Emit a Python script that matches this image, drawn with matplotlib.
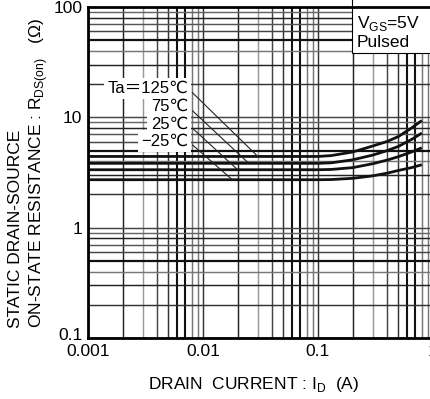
import matplotlib
matplotlib.use("Agg")
import matplotlib.pyplot as plt
from matplotlib.patches import Rectangle
from matplotlib.transforms import ScaledTranslation

plt.rcParams['font.family'] = ['Liberation Sans', 'DejaVu Sans', 'Noto Sans CJK JP']
plt.rcParams['mathtext.fontset'] = 'custom'
plt.rcParams['mathtext.rm'] = 'Liberation Sans'

# drain current (A) and on-state resistance (ohm) per ambient temperature
current = [0.001, 0.1, 0.13, 0.2, 0.3, 0.4, 0.5, 0.65, 0.8]
r_125 = [4.42, 4.42, 4.5, 4.85, 5.5, 6.05, 6.7, 8.0, 9.35]
r_75 = [3.83, 3.83, 3.87, 4.12, 4.55, 5.0, 5.45, 6.3, 7.2]
r_25 = [3.35, 3.35, 3.37, 3.5, 3.8, 4.1, 4.4, 4.85, 5.3]
r_m25 = [2.72, 2.72, 2.73, 2.8, 2.95, 3.12, 3.3, 3.5, 3.72]
temp_labels = ["Ta＝125℃", "75℃", "25℃", "−25℃"]
# current where each label's leader line meets its curve
label_current = [0.030, 0.025, 0.020, 0.018]

x_ticks = [0.001, 0.01, 0.1, 1]
x_ticklabels = ["0.001", "0.01", "0.1", "1"]
y_ticks = [0.1, 1, 10, 100]
y_ticklabels = ["0.1", "1", "10", "100"]


def draw_grid(ax):
    # scanned datasheet grid: every line has its own weight
    vcol = {1: "#333333", 2: "#222222", 3: "#999999", 4: "#444444", 5: "#333333",
            6: "#111111", 7: "#111111", 8: "#777777", 9: "#777777"}
    hcol = {1: "#444444", 2: "#333333", 3: "#222222", 4: "#777777", 5: "#111111",
            6: "#444444", 7: "#555555", 8: "#222222", 9: "#666666"}
    for dec in [0.001, 0.01, 0.1]:
        for k in range(1, 10):
            lw = 1.5 if k in (6, 7) else 1.05
            ax.axvline(dec * k, color=vcol[k], lw=lw, zorder=1)
    for dec in [0.1, 1, 10]:
        for k in range(1, 10):
            lw = 1.6 if k == 5 else 1.05
            ax.axhline(dec * k, color=hcol[k], lw=lw, zorder=1)


def main():
    fig = plt.figure(figsize=(4.31, 3.99), dpi=100)
    ax = fig.add_axes([88 / 431, 1 - 338 / 399, 345 / 431, 331 / 399])
    ax.set_xscale('log')
    ax.set_yscale('log')
    ax.set_xlim(0.001, 1)
    ax.set_ylim(0.1, 100)

    draw_grid(ax)

    curves = [r_125, r_75, r_25, r_m25]
    for r in curves:
        ax.plot(current, r, color='#111111', lw=2.0, solid_capstyle='butt',
                solid_joinstyle='round', zorder=3)

    # temperature labels with leader lines
    label_y = [0.754, 0.699, 0.646, 0.595]
    for lab, ic, r, ly in zip(temp_labels, label_current, curves, label_y):
        ax.annotate(lab, xy=(ic, r[0]), xycoords='data',
                    xytext=(0.29, ly), textcoords='axes fraction',
                    ha='right', va='center', fontsize=12, zorder=4,
                    bbox=dict(boxstyle='square,pad=0.2', fc='white', ec='none'),
                    arrowprops=dict(arrowstyle='-', lw=0.8, color='#222222',
                                    relpos=(1, 0.5), shrinkA=1, shrinkB=0))

    # condition box top right
    ax.add_patch(Rectangle((0.765, 0.861), 0.3, 0.2, transform=ax.transAxes,
                           fc='white', ec='black', lw=0.8, zorder=4, clip_on=False))
    ax.text(0.78, 0.925, "V$_{\\mathrm{GS}}$=5V\nPulsed", transform=ax.transAxes,
            ha='left', va='center', fontsize=12.5, linespacing=1.15, zorder=5)

    ax.set_xticks(x_ticks)
    ax.set_xticklabels(x_ticklabels)
    ax.set_yticks(y_ticks)
    ax.set_yticklabels(y_ticklabels)
    ax.minorticks_off()
    ax.tick_params(length=0, pad=4, labelsize=12.5)
    # the lowest y label sits a little above the corner in the original
    low = ax.get_yticklabels()[0]
    low.set_transform(low.get_transform() + ScaledTranslation(0, 4 / 100, fig.dpi_scale_trans))

    for side in ['left', 'bottom', 'top']:
        ax.spines[side].set_linewidth(2.0)
        ax.spines[side].set_zorder(6)
    ax.spines['right'].set_visible(False)

    fig.text(29 / 431, 1 - 328 / 399,
             "STATIC DRAIN-SOURCE\nON-STATE RESISTANCE : R$_{\\mathrm{DS(on)}}$   (Ω)",
             rotation=90, ha='center', va='bottom', multialignment='left',
             linespacing=1.3, fontsize=12.5)
    fig.text(254 / 431, 1 - 385 / 399, "DRAIN  CURRENT : I$_{\\mathrm{D}}$  (A)",
             ha='center', va='center', fontsize=12.5)

    fig.savefig('out.png', dpi=100)


if __name__ == "__main__":
    main()
